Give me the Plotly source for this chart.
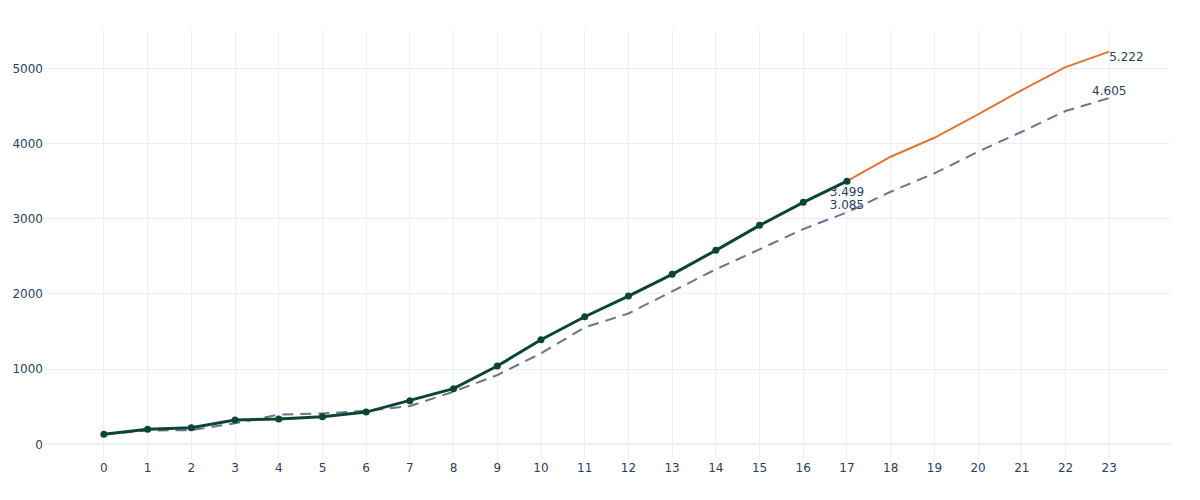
import plotly.graph_objects as go

# ---- data ----
actual_x = list(range(0, 18))
actual_y = [133, 199, 221, 323, 336, 367, 429, 580, 740, 1041, 1391, 1697,
            1972, 2261, 2580, 2912, 3218, 3499]

forecast_x = list(range(17, 24))
forecast_y = [3499, 3825, 4077, 4388, 4711, 5017, 5222]

reference_x = list(range(0, 24))
reference_y = [133, 185, 188, 279, 396, 410, 447, 509, 700, 921, 1210, 1555,
               1740, 2030, 2327, 2593, 2863, 3085, 3359, 3604, 3891, 4157,
               4432, 4605]

x_ticks = list(range(0, 24))


def fmt(v):
    return f"{v:,}".replace(",", ".")


def label_points(xs, ys, keep):
    return [fmt(y) if x in keep else "" for x, y in zip(xs, ys)]


fig = go.Figure()

fig.add_trace(go.Scatter(
    x=reference_x, y=reference_y, mode="lines+text",
    line=dict(color="#687590", width=2, dash="11px,7px"),
    text=label_points(reference_x, reference_y, {17, 23}),
    textposition="top center",
    textfont=dict(size=12, color="#2a3f5f"),
    hoverinfo="x+y",
))

fig.add_trace(go.Scatter(
    x=forecast_x, y=forecast_y, mode="lines+text",
    line=dict(color="#e07435", width=2),
    text=label_points(forecast_x, forecast_y, {23}),
    textposition="bottom right",
    textfont=dict(size=12, color="#2a3f5f"),
))

fig.add_trace(go.Scatter(
    x=actual_x, y=actual_y, mode="lines+markers+text",
    line=dict(color="#0c4535", width=3),
    marker=dict(color="#0c4535", size=7),
    text=label_points(actual_x, actual_y, {17}),
    textposition="bottom center",
    textfont=dict(size=12, color="#2a3f5f"),
))

fig.update_layout(
    template="plotly_white",
    width=1200, height=500,
    margin=dict(l=36, r=38, t=22, b=49),
    showlegend=False,
    font=dict(family="DejaVu Sans", size=12, color="#2a3f5f"),
)
fig.update_xaxes(range=[-1.37, 24.39], tickmode="array", tickvals=x_ticks,
                 ticktext=[str(t) for t in x_ticks], gridcolor="#ebf0f8",
                 zeroline=False, automargin=False)
fig.update_yaxes(range=[-195, 5510], dtick=1000, gridcolor="#ebf0f8",
                 zeroline=True, zerolinecolor="#ebf0f8", zerolinewidth=2,
                 automargin=False)

fig.write_html("out.html")
